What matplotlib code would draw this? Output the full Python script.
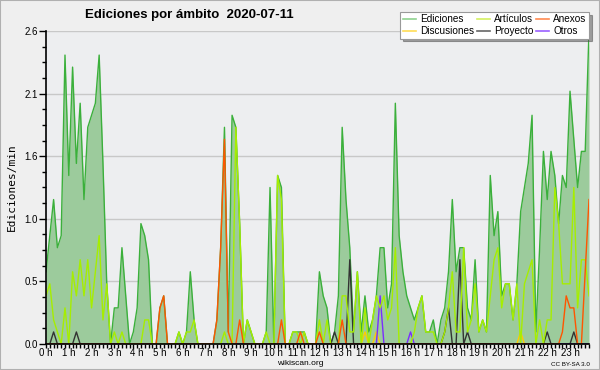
import numpy as np
import matplotlib
matplotlib.use("Agg")
import matplotlib.pyplot as plt
from matplotlib.ticker import FixedLocator, MultipleLocator

plt.rcParams["font.family"] = ["Liberation Sans", "DejaVu Sans"]

# edits per minute, one value per 10 minutes (00:00 .. 23:50)
ediciones = [0.6, 0.9, 1.2, 0.8, 0.9, 2.4, 1.4, 2.3, 1.5, 2.0, 1.2, 1.8,
             1.9, 2.0, 2.4, 1.5, 0.5, 0.0, 0.3, 0.3, 0.8, 0.4, 0.0, 0.1,
             0.3, 1.0, 0.9, 0.7, 0.0, 0.0, 0.3, 0.4, 0.0, 0.0, 0.0, 0.1,
             0.0, 0.1, 0.6, 0.2, 0.0, 0.0, 0.0, 0.0, 0.0, 0.2, 0.8, 1.8,
             0.1, 1.9, 1.8, 1.0, 0.0, 0.2, 0.1, 0.0, 0.0, 0.0, 0.1, 1.3,
             0.0, 1.4, 1.3, 0.0, 0.0, 0.1, 0.1, 0.1, 0.1, 0.0, 0.0, 0.0,
             0.6, 0.4, 0.3, 0.0, 0.1, 0.4, 1.8, 1.2, 0.8, 0.1, 0.6, 0.1,
             0.4, 0.1, 0.2, 0.4, 0.8, 0.8, 0.3, 0.5, 2.0, 0.9, 0.6, 0.4,
             0.3, 0.2, 0.3, 0.4, 0.1, 0.1, 0.2, 0.0, 0.2, 0.3, 0.6, 1.2,
             0.6, 0.8, 0.8, 0.3, 0.2, 0.7, 0.1, 0.2, 0.1, 1.4, 0.9, 1.1,
             0.4, 0.5, 0.5, 0.2, 0.5, 1.1, 1.3, 1.5, 1.9, 0.1, 0.8, 1.6,
             1.2, 1.6, 1.4, 1.0, 1.4, 1.3, 2.1, 1.7, 1.3, 1.6, 1.6, 2.6]

articulos = [0.4, 0.5, 0.2, 0.1, 0.0, 0.3, 0.0, 0.6, 0.4, 0.7, 0.4, 0.7,
             0.3, 0.6, 0.9, 0.2, 0.5, 0.0, 0.1, 0.0, 0.1, 0.0, 0.0, 0.0,
             0.0, 0.0, 0.2, 0.2, 0.0, 0.0, 0.0, 0.0, 0.0, 0.0, 0.0, 0.1,
             0.0, 0.1, 0.1, 0.2, 0.0, 0.0, 0.0, 0.0, 0.0, 0.0, 0.0, 0.1,
             0.0, 0.0, 1.8, 1.0, 0.0, 0.2, 0.1, 0.0, 0.0, 0.0, 0.1, 0.0,
             0.0, 1.4, 1.2, 0.0, 0.0, 0.1, 0.1, 0.0, 0.1, 0.0, 0.0, 0.0,
             0.2, 0.0, 0.2, 0.0, 0.0, 0.0, 0.4, 0.4, 0.1, 0.1, 0.6, 0.0,
             0.3, 0.0, 0.2, 0.4, 0.3, 0.4, 0.2, 0.3, 0.8, 0.0, 0.0, 0.0,
             0.0, 0.1, 0.3, 0.4, 0.1, 0.1, 0.1, 0.0, 0.0, 0.1, 0.3, 0.6,
             0.1, 0.1, 0.8, 0.1, 0.2, 0.5, 0.1, 0.2, 0.1, 0.4, 0.7, 0.8,
             0.3, 0.5, 0.5, 0.2, 0.5, 0.0, 0.5, 0.6, 0.7, 0.0, 0.2, 0.0,
             0.2, 0.2, 1.3, 1.0, 0.5, 0.5, 0.5, 1.3, 0.3, 0.7, 0.7, 0.4]

# sparse series: {slot index: value}
anexos = {29: 0.0, 30: 0.3, 31: 0.4, 45: 0.2, 46: 0.8, 47: 1.7, 48: 0.1,
          51: 0.2, 62: 0.2, 67: 0.1, 72: 0.1, 78: 0.2, 136: 0.1, 137: 0.4,
          138: 0.3, 139: 0.3, 142: 0.6, 143: 1.2}
discusiones = {84: 0.1, 87: 0.1, 125: 0.1}
proyecto = {2: 0.1, 8: 0.1, 76: 0.1, 80: 0.7, 105: 0.1, 106: 0.3,
            109: 0.7, 111: 0.1, 132: 0.1, 139: 0.1}
otros = {88: 0.4, 96: 0.1}

hours = [f"{h} h" for h in range(24)]
n = len(ediciones)
x = np.arange(n)


def dense(d):
    s = np.zeros(n)
    for k, v in d.items():
        s[k] = v
    return s


bg = "#efefef"
fig = plt.figure(figsize=(6, 3.7), dpi=100, facecolor=bg)
fig.patches.append(plt.Rectangle((0, 0), 1, 1, transform=fig.transFigure,
                                 fill=False, edgecolor="#b0b0b0", lw=1.5))
ax = fig.add_axes([46 / 600, 26 / 370, 543 / 600, 313 / 370])
ax.set_facecolor("#edeef0")

ax.fill_between(x, ediciones, color="#9ccb9c", lw=0, zorder=2)
ax.plot(x, ediciones, color="#3bb03b", lw=1.0, zorder=3)
ax.plot(x, dense(discusiones), color="#ffcc00", lw=1.0, zorder=4)
ax.plot(x, dense(proyecto), color="#333333", lw=1.0, zorder=4)
ax.plot(x, dense(otros), color="#7a2dff", lw=1.0, zorder=4)
ax.plot(x, articulos, color="#a6ee00", lw=1.0, zorder=5)
ax.plot(x, dense(anexos), color="#ff5500", lw=1.0, zorder=6)

ax.set_xlim(0, n - 1)
ax.set_ylim(0, 2.6)
yt = np.linspace(0, 2.6, 6)
ax.yaxis.set_major_locator(FixedLocator(yt))
ax.set_yticklabels([f"{v:.1f}" for v in yt])
ax.yaxis.set_minor_locator(MultipleLocator(0.13))
ax.set_xticks(np.arange(0, n, 6))
ax.set_xticklabels(hours)
ax.xaxis.set_minor_locator(MultipleLocator(1))
ax.tick_params(axis="both", direction="out", colors="black", labelsize=7,
               length=5, width=1, pad=1)
ax.tick_params(axis="both", which="minor", direction="out", length=3, width=1)
ax.tick_params(axis="x", which="both", length=3)
ax.tick_params(axis="x", labelsize=7, pad=0)
ax.grid(axis="y", color="#c8c8c8", lw=1, zorder=1)
ax.set_axisbelow(True)
for s in ["top", "right"]:
    ax.spines[s].set_visible(False)
for s in ["left", "bottom"]:
    ax.spines[s].set_linewidth(1.2)
    ax.spines[s].set_zorder(7)

ax.set_ylabel("Ediciones/min", family="DejaVu Sans Mono", fontsize=8, labelpad=5)

fig.text(85 / 600, 1 - 15 / 370, "Ediciones por ámbito  2020-07-11",
         fontsize=9.5, fontweight="bold", va="center", ha="left")
fig.text(300 / 600, 1 - 363.5 / 370, "wikiscan.org", fontsize=6, ha="center", va="center")
fig.text(590 / 600, 1 - 364 / 370, "CC BY-SA 3.0", fontsize=4.5, ha="right", va="center")

# legend
labels = ["Ediciones", "Discusiones", "Artículos", "Proyecto", "Anexos", "Otros"]
colors = ["#8fd28f", "#ffdd55", "#d4f060", "#666666", "#ff8a50", "#9a60ff"]
handles = [plt.Line2D([], [], color=c, lw=1.2) for c in colors]
leg = fig.legend(handles, labels, ncol=3, loc="upper right",
                 bbox_to_anchor=(589 / 600, 1 - 12 / 370), fontsize=7.2,
                 frameon=True, fancybox=False, shadow=True, framealpha=1,
                 edgecolor="#999999", handlelength=1.3, handletextpad=0.4,
                 columnspacing=0.3, labelspacing=0.15, borderpad=0.25,
                 borderaxespad=0)
leg.get_frame().set_linewidth(0.8)
leg.set_zorder(10)

fig.savefig("out.png", dpi=100, facecolor=bg)
